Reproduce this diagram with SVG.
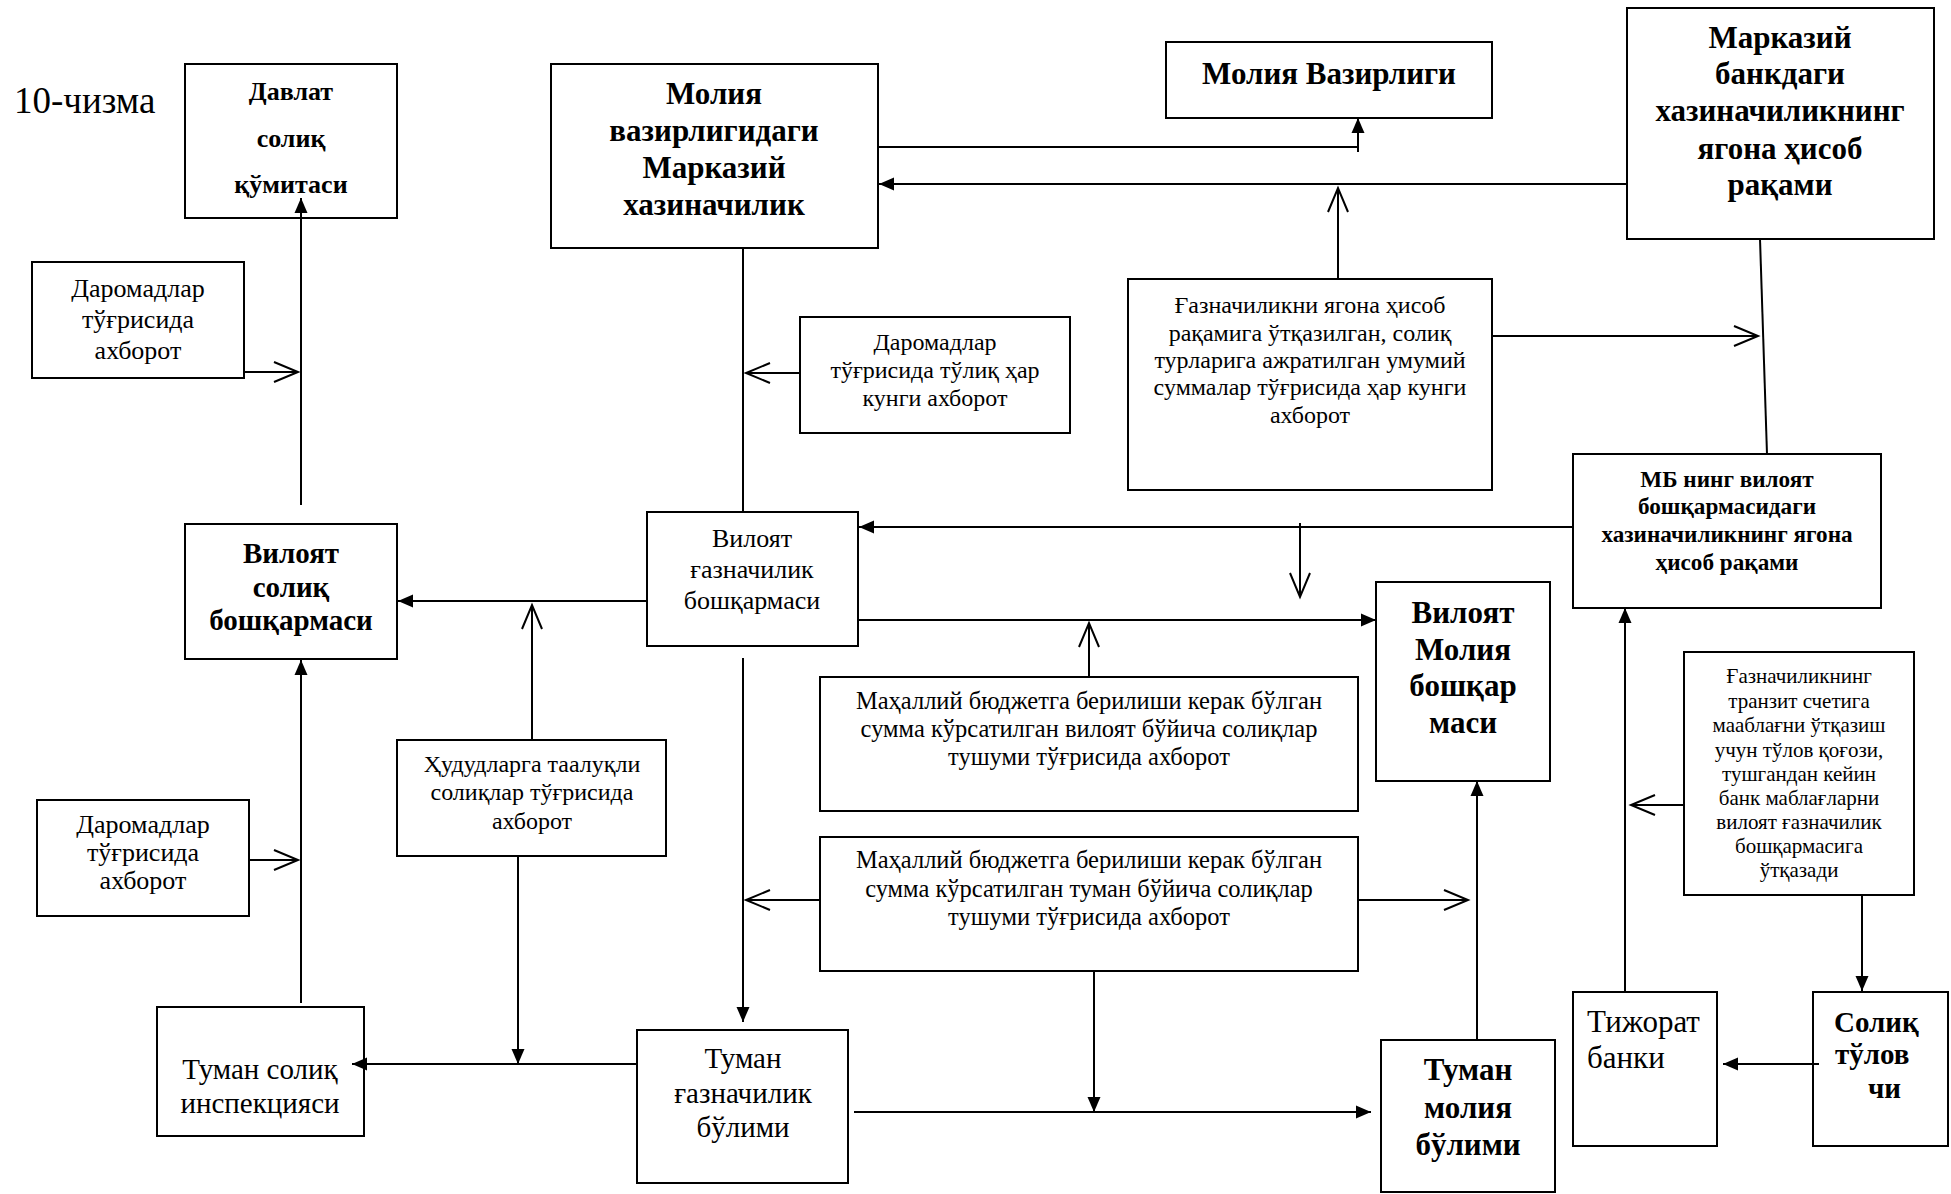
<svg xmlns="http://www.w3.org/2000/svg" width="1951" height="1194" viewBox="0 0 1951 1194">
<style>
.box{fill:#fff;stroke:#000;stroke-width:2}
.t{font-family:"Liberation Serif","Times New Roman",serif;fill:#000;text-anchor:middle}
.b{font-weight:bold}
.c line{stroke:#000;stroke-width:2;fill:none}
.fa{marker-end:url(#fa)}
.oa{marker-end:url(#oa)}
</style>
<defs>
<marker id="fa" markerUnits="userSpaceOnUse" markerWidth="16" markerHeight="14" refX="15" refY="6.5" orient="auto" overflow="visible"><path d="M0,0 L15,6.5 L0,13 z" fill="#000"/></marker>
<marker id="oa" markerUnits="userSpaceOnUse" markerWidth="26" markerHeight="22" refX="24" refY="10" orient="auto" overflow="visible"><path d="M0,0 L24,10 L0,20" fill="none" stroke="#000" stroke-width="2"/></marker>
</defs>
<rect width="1951" height="1194" fill="#fff"/>
<text x="14" y="113" font-family="Liberation Serif, serif" font-size="37">10-чизма</text>

<g id="davlat">
<rect class="box" x="185" y="64" width="212" height="154"/>
<text class="t b" font-size="26"><tspan x="291" y="100">Давлат</tspan><tspan x="291" y="147">солиқ</tspan><tspan x="291" y="193">қўмитаси</tspan></text>
</g>

<g id="daromad1">
<rect class="box" x="32" y="262" width="212" height="116"/>
<text class="t" font-size="26"><tspan x="138" y="297">Даромадлар</tspan><tspan x="138" y="328">тўғрисида</tspan><tspan x="138" y="359">ахборот</tspan></text>
</g>

<g id="markaziy-xaz">
<rect class="box" x="551" y="64" width="327" height="184"/>
<text class="t b" font-size="31"><tspan x="714" y="104">Молия</tspan><tspan x="714" y="141">вазирлигидаги</tspan><tspan x="714" y="178">Марказий</tspan><tspan x="714" y="215">хазиначилик</tspan></text>
</g>

<g id="moliya-vaz">
<rect class="box" x="1166" y="42" width="326" height="76"/>
<text class="t b" font-size="31" x="1329" y="84">Молия Вазирлиги</text>
</g>

<g id="markaziy-bank">
<rect class="box" x="1627" y="8" width="307" height="231"/>
<text class="t b" font-size="31"><tspan x="1780" y="48">Марказий</tspan><tspan x="1780" y="84">банкдаги</tspan><tspan x="1780" y="121">хазиначиликнинг</tspan><tspan x="1780" y="159">ягона ҳисоб</tspan><tspan x="1780" y="195">рақами</tspan></text>
</g>

<g id="gaznachilikni">
<rect class="box" x="1128" y="279" width="364" height="211"/>
<text class="t" font-size="24"><tspan x="1310" y="313">Ғазначиликни ягона ҳисоб</tspan><tspan x="1310" y="341">рақамига ўтқазилган, солиқ</tspan><tspan x="1310" y="368">турларига ажратилган умумий</tspan><tspan x="1310" y="395">суммалар тўғрисида ҳар кунги</tspan><tspan x="1310" y="423">ахборот</tspan></text>
</g>

<g id="daromad-tuliq">
<rect class="box" x="800" y="317" width="270" height="116"/>
<text class="t" font-size="24"><tspan x="935" y="350">Даромадлар</tspan><tspan x="935" y="378">тўғрисида тўлиқ ҳар</tspan><tspan x="935" y="406">кунги ахборот</tspan></text>
</g>

<g id="viloyat-gazn">
<rect class="box" x="647" y="512" width="211" height="134"/>
<text class="t" font-size="26"><tspan x="752" y="547">Вилоят</tspan><tspan x="752" y="578">ғазначилик</tspan><tspan x="752" y="609">бошқармаси</tspan></text>
</g>

<g id="viloyat-soliq">
<rect class="box" x="185" y="524" width="212" height="135"/>
<text class="t b" font-size="29"><tspan x="291" y="563">Вилоят</tspan><tspan x="291" y="597">солиқ</tspan><tspan x="291" y="630">бошқармаси</tspan></text>
</g>

<g id="mb-viloyat">
<rect class="box" x="1573" y="454" width="308" height="154"/>
<text class="t b" font-size="23.2"><tspan x="1727" y="487">МБ нинг вилоят</tspan><tspan x="1727" y="514">бошқармасидаги</tspan><tspan x="1727" y="542">хазиначиликнинг ягона</tspan><tspan x="1727" y="570">ҳисоб рақами</tspan></text>
</g>

<g id="hududlar">
<rect class="box" x="397" y="740" width="269" height="116"/>
<text class="t" font-size="24"><tspan x="532" y="772">Ҳудудларга таалуқли</tspan><tspan x="532" y="800">солиқлар тўғрисида</tspan><tspan x="532" y="829">ахборот</tspan></text>
</g>

<g id="mahalliy-viloyat">
<rect class="box" x="820" y="677" width="538" height="134"/>
<text class="t" font-size="24.5"><tspan x="1089" y="709">Маҳаллий бюджетга берилиши керак бўлган</tspan><tspan x="1089" y="737">сумма кўрсатилган вилоят бўйича солиқлар</tspan><tspan x="1089" y="765">тушуми тўғрисида ахборот</tspan></text>
</g>

<g id="viloyat-moliya">
<rect class="box" x="1376" y="582" width="174" height="199"/>
<text class="t b" font-size="31"><tspan x="1463" y="623">Вилоят</tspan><tspan x="1463" y="660">Молия</tspan><tspan x="1463" y="696">бошқар</tspan><tspan x="1463" y="733">маси</tspan></text>
</g>

<g id="transit">
<rect class="box" x="1684" y="652" width="230" height="243"/>
<text class="t" font-size="21"><tspan x="1799" y="683">Ғазначиликнинг</tspan><tspan x="1799" y="708">транзит счетига</tspan><tspan x="1799" y="732">мааблағни ўтқазиш</tspan><tspan x="1799" y="757">учун тўлов қоғози,</tspan><tspan x="1799" y="781">тушгандан кейин</tspan><tspan x="1799" y="805">банк маблағларни</tspan><tspan x="1799" y="829">вилоят ғазначилик</tspan><tspan x="1799" y="853">бошқармасига</tspan><tspan x="1799" y="877">ўтқазади</tspan></text>
</g>

<g id="daromad2">
<rect class="box" x="37" y="800" width="212" height="116"/>
<text class="t" font-size="26"><tspan x="143" y="833">Даромадлар</tspan><tspan x="143" y="861">тўғрисида</tspan><tspan x="143" y="889">ахборот</tspan></text>
</g>

<g id="mahalliy-tuman">
<rect class="box" x="820" y="837" width="538" height="134"/>
<text class="t" font-size="24.5"><tspan x="1089" y="868">Маҳаллий бюджетга берилиши керак бўлган</tspan><tspan x="1089" y="897">сумма кўрсатилган туман бўйича солиқлар</tspan><tspan x="1089" y="925">тушуми тўғрисида ахборот</tspan></text>
</g>

<g id="tuman-soliq">
<rect class="box" x="157" y="1007" width="207" height="129"/>
<text class="t" font-size="29"><tspan x="260" y="1079">Туман солиқ</tspan><tspan x="260" y="1113">инспекцияси</tspan></text>
</g>

<g id="tuman-gazn">
<rect class="box" x="637" y="1030" width="211" height="153"/>
<text class="t" font-size="29"><tspan x="743" y="1068">Туман</tspan><tspan x="743" y="1103">ғазначилик</tspan><tspan x="743" y="1137">бўлими</tspan></text>
</g>

<g id="tuman-moliya">
<rect class="box" x="1381" y="1040" width="174" height="152"/>
<text class="t b" font-size="31"><tspan x="1468" y="1080">Туман</tspan><tspan x="1468" y="1118">молия</tspan><tspan x="1468" y="1155">бўлими</tspan></text>
</g>

<g id="tijorat">
<rect class="box" x="1573" y="992" width="144" height="154"/>
<text class="t" font-size="31" style="text-anchor:start"><tspan x="1587" y="1032">Тижорат</tspan><tspan x="1587" y="1068">банки</tspan></text>
</g>

<g id="soliq-tulovchi">
<rect class="box" x="1813" y="992" width="135" height="154"/>
<text class="t b" font-size="29" style="text-anchor:start"><tspan x="1834" y="1032">Солиқ</tspan><tspan x="1835" y="1064">тўлов</tspan><tspan x="1868" y="1098">чи</tspan></text>
</g>

<g class="c" id="connectors">
<line class="fa" x1="301" y1="505" x2="301" y2="198"/>
<line class="oa" x1="244" y1="372" x2="298" y2="372"/>
<line x1="878" y1="147" x2="1358" y2="147"/>
<line class="fa" x1="1358" y1="152" x2="1358" y2="118"/>
<line class="fa" x1="1627" y1="184" x2="879" y2="184"/>
<line x1="1760" y1="239" x2="1767" y2="454"/>
<line class="oa" x1="1338" y1="279" x2="1338" y2="188"/>
<line class="oa" x1="1492" y1="336" x2="1758" y2="336"/>
<line class="oa" x1="800" y1="373" x2="746" y2="373"/>
<line x1="743" y1="248" x2="743" y2="512"/>
<line class="fa" x1="647" y1="601" x2="398" y2="601"/>
<line class="fa" x1="1573" y1="527" x2="859" y2="527"/>
<line class="oa" x1="1300" y1="523" x2="1300" y2="597"/>
<line class="fa" x1="858" y1="620" x2="1376" y2="620"/>
<line class="oa" x1="1089" y1="677" x2="1089" y2="623"/>
<line class="fa" x1="301" y1="1003" x2="301" y2="660"/>
<line class="oa" x1="532" y1="740" x2="532" y2="605"/>
<line class="fa" x1="518" y1="856" x2="518" y2="1064"/>
<line class="oa" x1="249" y1="860" x2="298" y2="860"/>
<line class="fa" x1="637" y1="1064" x2="352" y2="1064"/>
<line class="fa" x1="743" y1="658" x2="743" y2="1022"/>
<line class="fa" x1="854" y1="1112" x2="1371" y2="1112"/>
<line class="fa" x1="1094" y1="971" x2="1094" y2="1112"/>
<line class="oa" x1="820" y1="900" x2="746" y2="900"/>
<line class="oa" x1="1358" y1="900" x2="1468" y2="900"/>
<line class="fa" x1="1477" y1="1040" x2="1477" y2="781"/>
<line class="oa" x1="1684" y1="805" x2="1631" y2="805"/>
<line class="fa" x1="1862" y1="895" x2="1862" y2="991"/>
<line class="fa" x1="1625" y1="992" x2="1625" y2="608"/>
<line class="fa" x1="1819" y1="1064" x2="1723" y2="1064"/>
</g>
</svg>
